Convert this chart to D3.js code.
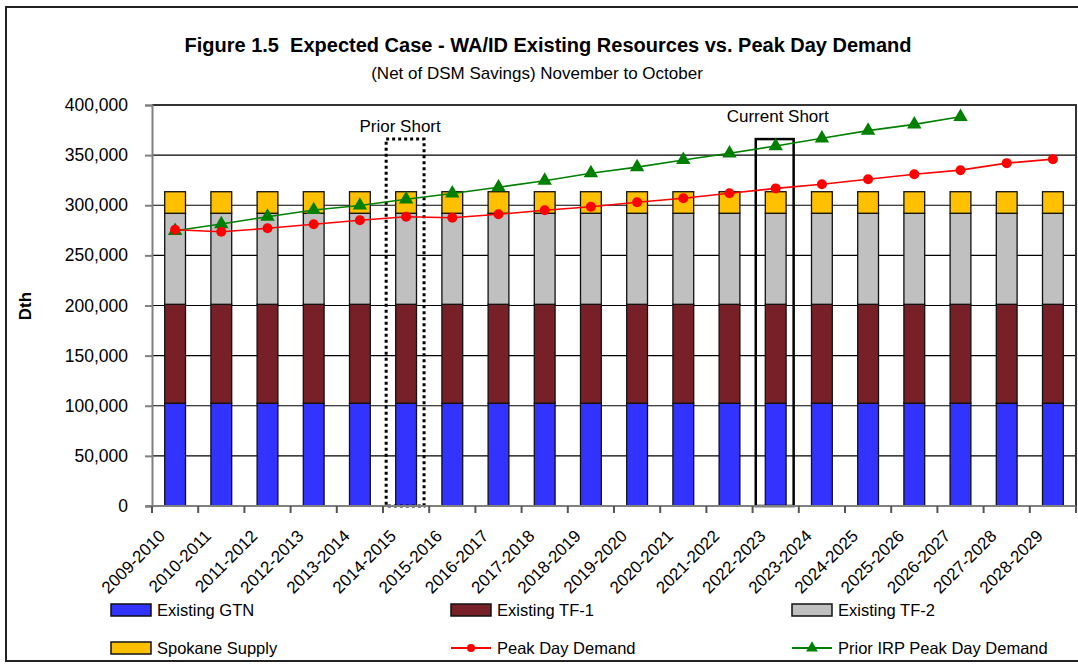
<!DOCTYPE html>
<html>
<head>
<meta charset="utf-8">
<script src="https://cdn.jsdelivr.net/npm/d3@7"></script>
<style>
  body { margin: 0; background: #fff; }
  svg text { font-family: "Liberation Sans", Arial, sans-serif; fill: #000; }
</style>
</head>
<body>
<svg width="1078" height="665"></svg>
<script>
const categories = ["2009-2010", "2010-2011", "2011-2012", "2012-2013", "2013-2014", "2014-2015",
  "2015-2016", "2016-2017", "2017-2018", "2018-2019", "2019-2020", "2020-2021", "2021-2022",
  "2022-2023", "2023-2024", "2024-2025", "2025-2026", "2026-2027", "2027-2028", "2028-2029"];

const stackNames = ["Existing GTN", "Existing TF-1", "Existing TF-2", "Spokane Supply"];
const stackColors = ["#3333ff", "#772028", "#c0c0c0", "#ffc000"];
const gtn = [102500, 102500, 102500, 102500, 102500, 102500, 102500, 102500, 102500, 102500,
  102500, 102500, 102500, 102500, 102500, 102500, 102500, 102500, 102500, 102500];
const tf1 = [98700, 98700, 98700, 98700, 98700, 98700, 98700, 98700, 98700, 98700,
  98700, 98700, 98700, 98700, 98700, 98700, 98700, 98700, 98700, 98700];
const tf2 = [90800, 90800, 90800, 90800, 90800, 90800, 90800, 90800, 90800, 90800,
  90800, 90800, 90800, 90800, 90800, 90800, 90800, 90800, 90800, 90800];
const spokane = [21500, 21500, 21500, 21500, 21500, 21500, 21500, 21500, 21500, 21500,
  21500, 21500, 21500, 21500, 21500, 21500, 21500, 21500, 21500, 21500];

const peakDemand = [275500, 273500, 277000, 281000, 285000, 288500, 287500, 291000, 295000, 298500,
  303000, 307000, 312000, 316800, 321000, 326000, 331000, 335000, 342000, 346000];
const priorIrpDemand = [274600, 281300, 288600, 295300, 299800, 306000, 311800, 318000, 324500, 332000,
  338000, 345200, 351800, 359100, 366800, 374400, 380700, 388300];

const yTicks = [0, 50000, 100000, 150000, 200000, 250000, 300000, 350000, 400000];

const shortLabels = ["Prior Short", "Current Short"];
const shortCategories = ["2014-2015", "2022-2023"];
const shortTops = [366000, 366000];

const svg = d3.select("svg");

// outer frame
svg.append("rect")
  .attr("x", 6).attr("y", 7)
  .attr("width", 1100).attr("height", 654)
  .attr("fill", "none").attr("stroke", "#222").attr("stroke-width", 2);

const x = d3.scaleBand()
  .domain(categories)
  .range([152, 1076])
  .paddingInner(0.55)
  .paddingOuter(0.275);

const y = d3.scaleLinear()
  .domain([0, 400000])
  .range([506, 105]);

// titles
svg.append("text")
  .attr("x", 548).attr("y", 52)
  .attr("text-anchor", "middle")
  .attr("font-weight", "bold")
  .style("font-size", "20px")
  .text("Figure 1.5  Expected Case - WA/ID Existing Resources vs. Peak Day Demand")
  .style("white-space", "pre");

svg.append("text")
  .attr("x", 537).attr("y", 79)
  .attr("text-anchor", "middle")
  .style("font-size", "17px")
  .text("(Net of DSM Savings) November to October");

// gridlines
svg.append("g")
  .selectAll("line")
  .data(yTicks.slice(1, -1))
  .join("line")
  .attr("x1", 152).attr("x2", 1076)
  .attr("y1", d => y(d)).attr("y2", d => y(d))
  .attr("stroke", "#000").attr("stroke-width", 1.2);

// plot frame top/right
svg.append("path")
  .attr("d", `M152,${y(400000)}H1076V${y(0)}`)
  .attr("fill", "none").attr("stroke", "#333").attr("stroke-width", 2);

// stacked bars
const rows = categories.map((c, i) => ({ cat: c, v: [gtn[i], tf1[i], tf2[i], spokane[i]] }));
const layers = stackNames.map((name, k) => rows.map(r => {
  const base = d3.sum(r.v.slice(0, k));
  return { cat: r.cat, y0: base, y1: base + r.v[k] };
}));

svg.append("g")
  .selectAll("g")
  .data(layers)
  .join("g")
  .attr("fill", (d, k) => stackColors[k])
  .selectAll("rect")
  .data(d => d)
  .join("rect")
  .attr("x", d => x(d.cat))
  .attr("width", x.bandwidth())
  .attr("y", d => y(d.y1))
  .attr("height", d => y(d.y0) - y(d.y1))
  .attr("stroke", "#111")
  .attr("stroke-width", 1.3);

// short boxes
const boxW = x.step() * 0.82;
svg.append("g")
  .selectAll("rect")
  .data(shortCategories)
  .join("rect")
  .attr("x", d => x(d) + x.bandwidth() / 2 - boxW / 2 - 1)
  .attr("width", boxW)
  .attr("y", (d, i) => y(shortTops[i]))
  .attr("height", (d, i) => y(0) - y(shortTops[i]))
  .attr("fill", "none")
  .attr("stroke", "#000")
  .attr("stroke-width", (d, i) => i === 0 ? 3 : 2.5)
  .attr("stroke-dasharray", (d, i) => i === 0 ? "3,3" : null);

svg.append("g")
  .selectAll("text")
  .data(shortLabels)
  .join("text")
  .attr("x", (d, i) => x(shortCategories[i]) + x.bandwidth() / 2 + (i === 0 ? -6 : 2))
  .attr("y", (d, i) => i === 0 ? 132 : 122)
  .attr("text-anchor", "middle")
  .style("font-size", "17px")
  .text(d => d);

// y axis
const yAxis = svg.append("g")
  .attr("transform", "translate(152,0)")
  .call(d3.axisLeft(y).tickValues(yTicks).tickSize(7).tickPadding(17).tickFormat(d3.format(",")));
yAxis.select(".domain").attr("stroke", "#808080").attr("stroke-width", 2);
yAxis.selectAll(".tick line").attr("stroke", "#808080").attr("stroke-width", 2);
yAxis.selectAll("text").style("font-size", "17.5px").attr("font-family", null);

svg.append("text")
  .attr("transform", "translate(31,306) rotate(-90)")
  .attr("text-anchor", "middle")
  .attr("font-weight", "bold")
  .style("font-size", "17px")
  .text("Dth");

// x axis
const bounds = categories.map(c => x(c) + x.bandwidth() / 2 - x.step() / 2).concat([1076]);
svg.append("line")
  .attr("x1", 146).attr("x2", 1076)
  .attr("y1", y(0)).attr("y2", y(0))
  .attr("stroke", "#808080").attr("stroke-width", 2);
svg.append("g")
  .selectAll("line")
  .data(bounds)
  .join("line")
  .attr("x1", d => d).attr("x2", d => d)
  .attr("y1", y(0)).attr("y2", y(0) + 7)
  .attr("stroke", "#555").attr("stroke-width", 2);

svg.append("g")
  .selectAll("text")
  .data(categories)
  .join("text")
  .attr("transform", d => `translate(${x(d) + x.bandwidth() / 2 - 9},${y(0) + 31}) rotate(-45)`)
  .attr("text-anchor", "end")
  .style("font-size", "17px")
  .text(d => d);

// lines
const cx = d => x(d) + x.bandwidth() / 2;
const line = d3.line().x(d => cx(d.cat)).y(d => y(d.v));

const peakPts = categories.map((c, i) => ({ cat: c, v: peakDemand[i] }));
const priorPts = priorIrpDemand.map((v, i) => ({ cat: categories[i], v: v }));

svg.append("path")
  .datum(priorPts)
  .attr("d", line)
  .attr("fill", "none").attr("stroke", "#008000").attr("stroke-width", 1.6);
svg.append("g")
  .selectAll("path")
  .data(priorPts)
  .join("path")
  .attr("transform", d => `translate(${cx(d.cat)},${y(d.v)})`)
  .attr("d", d3.symbol(d3.symbolTriangle, 90))
  .attr("fill", "#008000");

svg.append("path")
  .datum(peakPts)
  .attr("d", line)
  .attr("fill", "none").attr("stroke", "#ff0000").attr("stroke-width", 1.6);
svg.append("g")
  .selectAll("circle")
  .data(peakPts)
  .join("circle")
  .attr("cx", d => cx(d.cat))
  .attr("cy", d => y(d.v))
  .attr("r", 5)
  .attr("fill", "#ff0000");

// legend
const legendItems = [
  { name: stackNames[0], type: "box", color: stackColors[0] },
  { name: stackNames[1], type: "box", color: stackColors[1] },
  { name: stackNames[2], type: "box", color: stackColors[2] },
  { name: stackNames[3], type: "box", color: stackColors[3] },
  { name: "Peak Day Demand", type: "circle", color: "#ff0000" },
  { name: "Prior IRP Peak Day Demand", type: "triangle", color: "#008000" }
];
const legendX = [111, 451, 792];
const legendY = [610, 648];

const leg = svg.append("g")
  .selectAll("g")
  .data(legendItems)
  .join("g")
  .attr("transform", (d, i) => `translate(${legendX[i % 3]},${legendY[Math.floor(i / 3)]})`);

leg.filter(d => d.type === "box")
  .append("rect")
  .attr("x", 0).attr("y", -6)
  .attr("width", 40).attr("height", 12)
  .attr("fill", d => d.color)
  .attr("stroke", "#111").attr("stroke-width", 1.5);

leg.filter(d => d.type !== "box")
  .append("line")
  .attr("x1", 0).attr("x2", 40)
  .attr("stroke", d => d.color).attr("stroke-width", 2);

leg.filter(d => d.type === "circle")
  .append("circle")
  .attr("cx", 20).attr("r", 4)
  .attr("fill", d => d.color);

leg.filter(d => d.type === "triangle")
  .append("path")
  .attr("transform", "translate(20,0)")
  .attr("d", d3.symbol(d3.symbolTriangle, 60))
  .attr("fill", d => d.color);

leg.append("text")
  .attr("x", 46).attr("y", 6)
  .style("font-size", "16.5px")
  .text(d => d.name);
</script>
</body>
</html>
